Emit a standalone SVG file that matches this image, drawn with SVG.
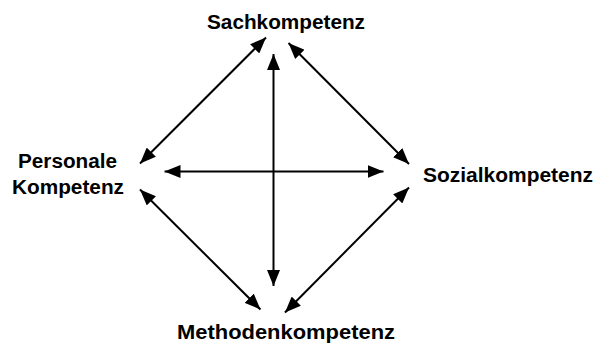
<svg xmlns="http://www.w3.org/2000/svg" width="599" height="345" viewBox="0 0 599 345">
<style>
text{font-family:"Liberation Sans",Arial,sans-serif;font-weight:bold;font-size:20px;fill:#000}
.c{stroke:#000;stroke-width:2;fill:none;marker-start:url(#ah);marker-end:url(#ah)}
</style>
<defs>
<marker id="ah" viewBox="0 0 16 13" refX="16" refY="6.5" markerWidth="16" markerHeight="13" markerUnits="userSpaceOnUse" orient="auto-start-reverse">
<path d="M0,0 L16,6.5 L0,13 z" fill="#000"/>
</marker>
</defs>
<rect width="599" height="345" fill="#fff"/>
<g id="connectors">
<line class="c" x1="273.5" y1="54" x2="273.5" y2="286"/>
<line class="c" x1="164.5" y1="171.5" x2="383.5" y2="171.5"/>
<line class="c" x1="266" y1="37.5" x2="140" y2="163.5"/>
<line class="c" x1="288.5" y1="43" x2="409" y2="164"/>
<line class="c" x1="140" y1="189.5" x2="260.5" y2="309.5"/>
<line class="c" x1="409" y1="187.5" x2="285" y2="312.5"/>
</g>
<g id="sach"><text x="207" y="29" textLength="158" lengthAdjust="spacingAndGlyphs">Sachkompetenz</text></g>
<g id="personal"><text x="18" y="168" textLength="99" lengthAdjust="spacingAndGlyphs">Personale</text><text x="12" y="194" textLength="112" lengthAdjust="spacingAndGlyphs">Kompetenz</text></g>
<g id="sozial"><text x="423" y="182" textLength="170" lengthAdjust="spacingAndGlyphs">Sozialkompetenz</text></g>
<g id="methoden"><text x="177" y="339" textLength="218" lengthAdjust="spacingAndGlyphs">Methodenkompetenz</text></g>
</svg>
